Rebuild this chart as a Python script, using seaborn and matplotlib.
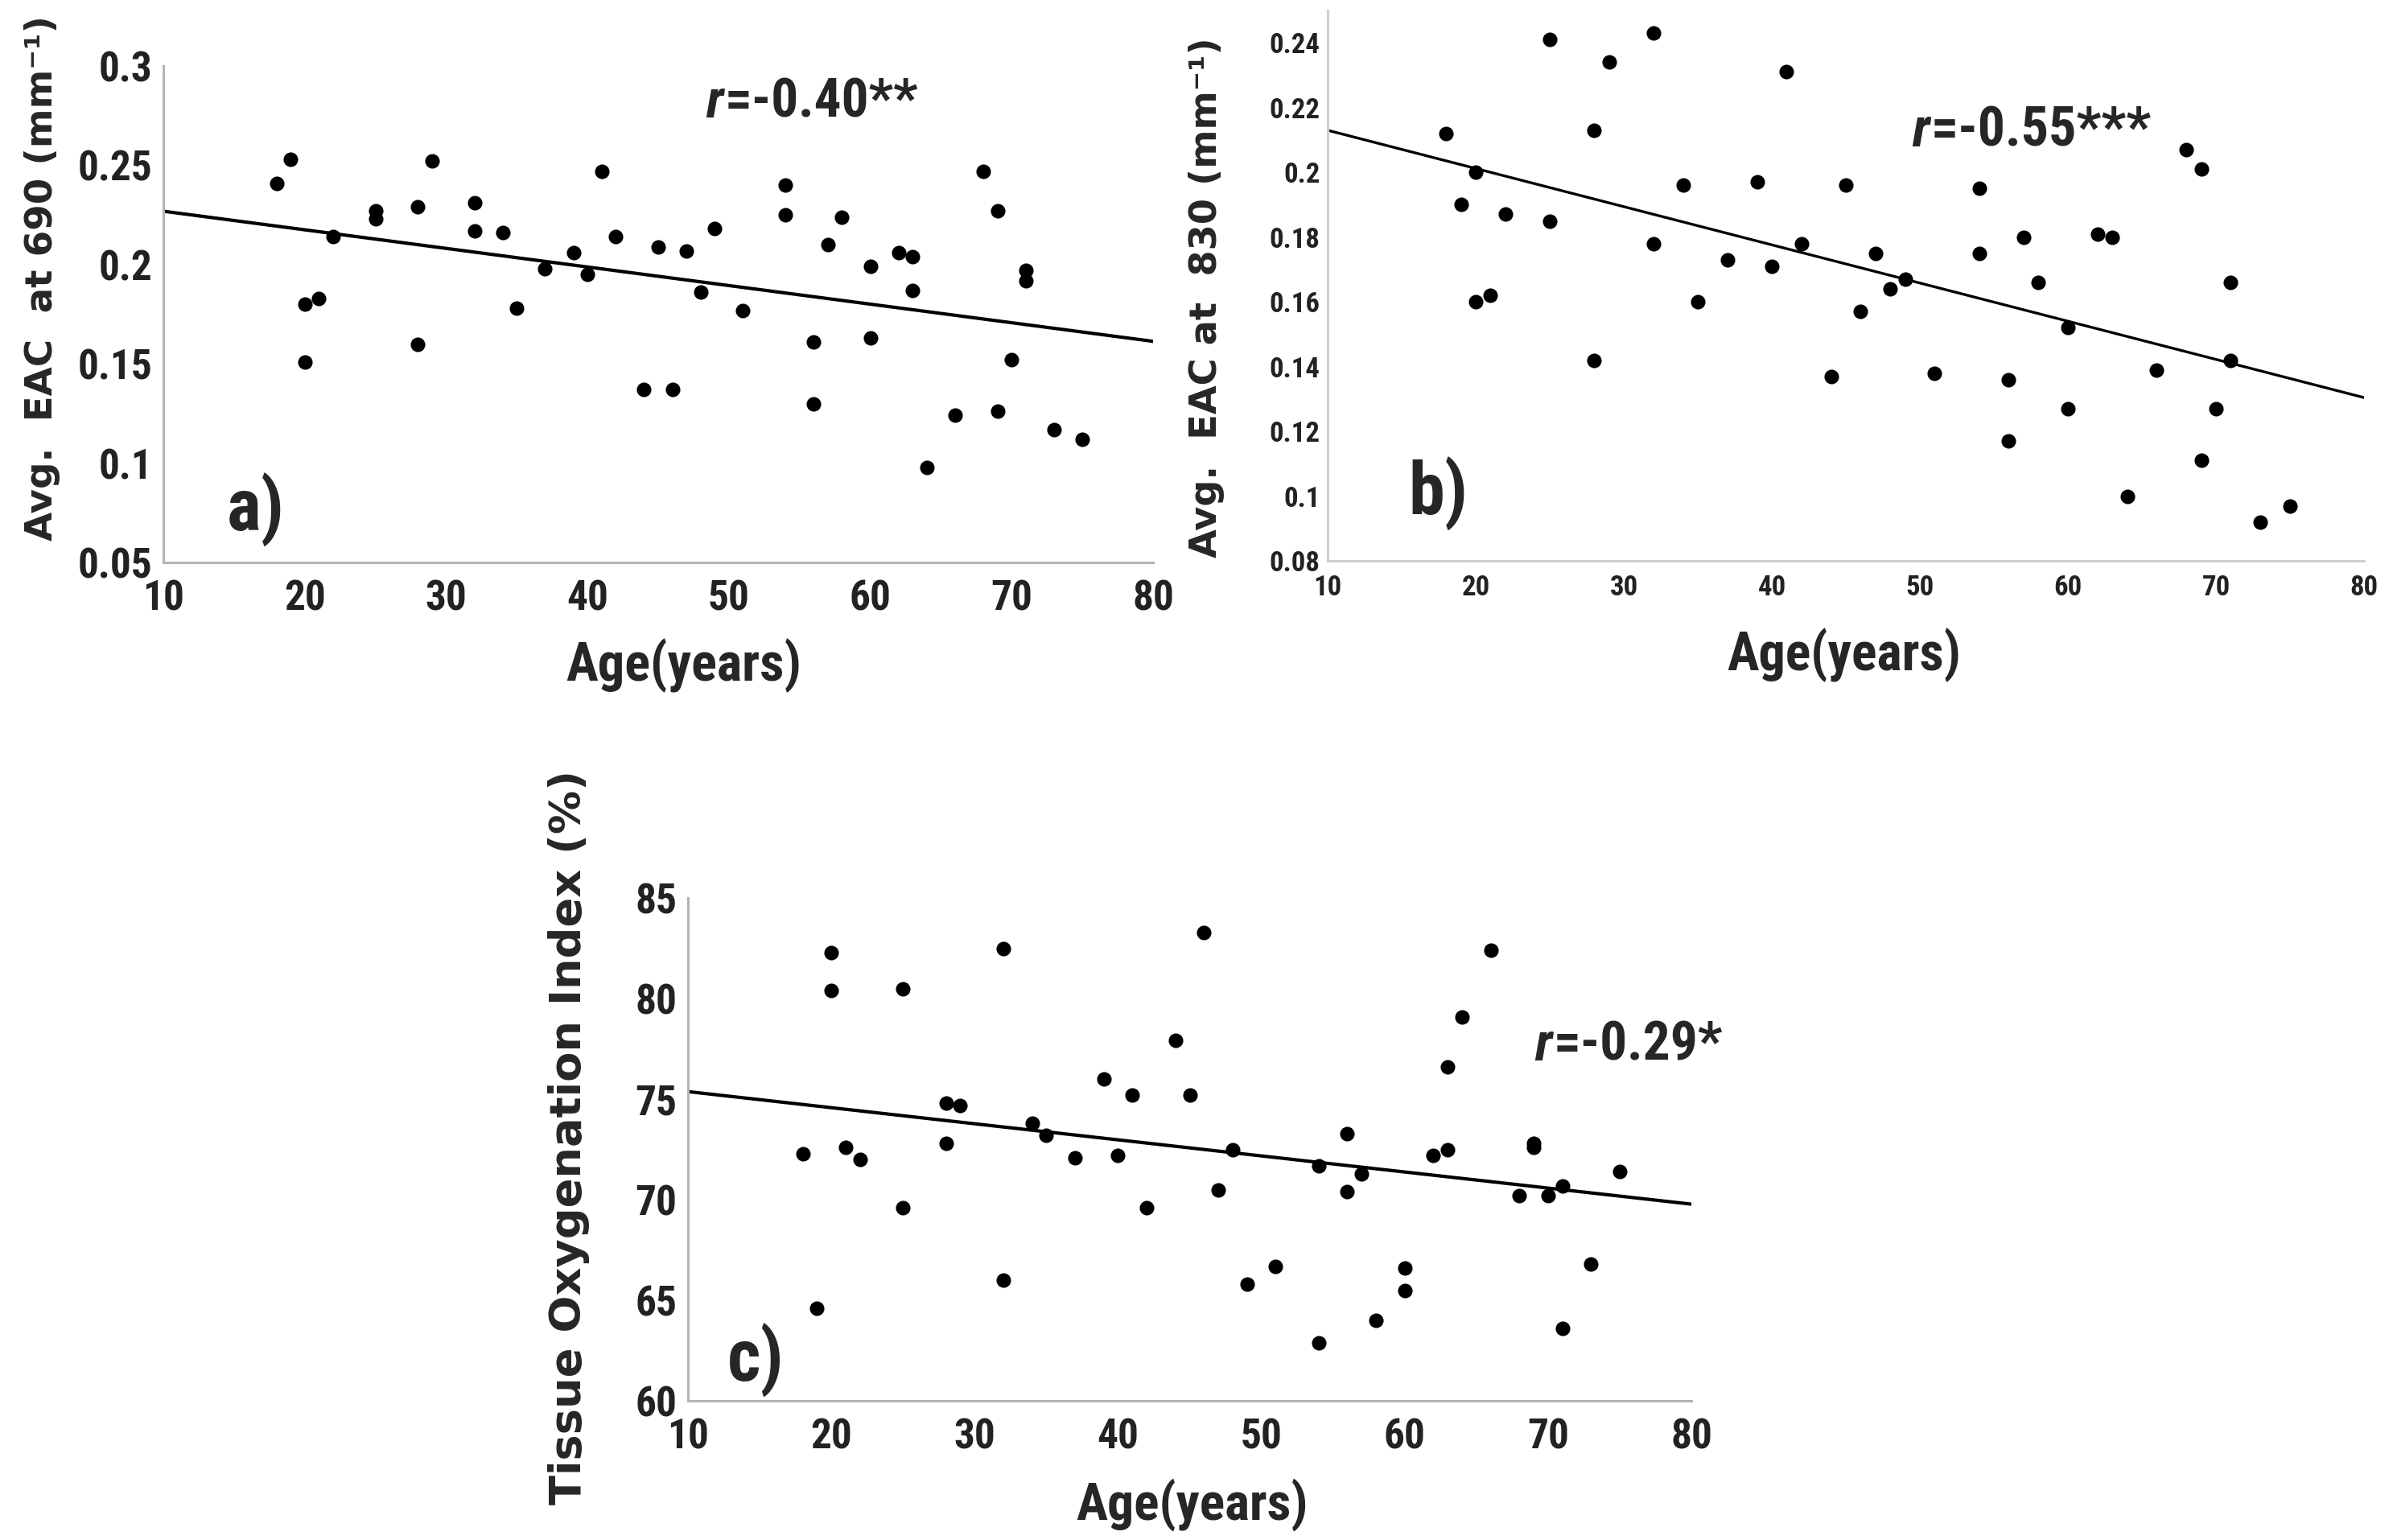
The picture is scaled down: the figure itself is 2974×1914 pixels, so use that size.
import numpy as np
import pandas as pd
import matplotlib
matplotlib.use("Agg")
import matplotlib.pyplot as plt
from matplotlib import font_manager as fm
import seaborn as sns

# panel a: EAC at 690 nm vs age
age_a = [18, 19, 20, 20, 21, 22, 25, 25, 28, 28, 29, 32, 32, 34, 35, 37, 39, 40,
         41, 42, 44, 45, 46, 47, 48, 49, 51, 54, 54, 56, 56, 57, 58, 60, 60, 62,
         63, 63, 64, 66, 68, 69, 69, 70, 71, 71, 73, 75]
eac690 = [0.241, 0.253, 0.180, 0.151, 0.183, 0.214, 0.227, 0.223, 0.229, 0.160,
          0.252, 0.231, 0.217, 0.216, 0.178, 0.198, 0.206, 0.195, 0.247, 0.214,
          0.137, 0.209, 0.137, 0.207, 0.186, 0.218, 0.177, 0.240, 0.225, 0.161,
          0.130, 0.210, 0.224, 0.199, 0.163, 0.206, 0.204, 0.187, 0.098, 0.124,
          0.247, 0.227, 0.126, 0.152, 0.197, 0.192, 0.117, 0.112]

# panel b: EAC at 830 nm vs age
age_b = [18, 19, 20, 20, 21, 22, 25, 25, 28, 28, 29, 32, 32, 34, 35, 37, 39, 40,
         41, 42, 44, 45, 46, 47, 48, 49, 51, 54, 54, 56, 56, 57, 58, 60, 60, 62,
         63, 64, 66, 68, 69, 69, 70, 71, 71, 73, 75]
eac830 = [0.212, 0.190, 0.200, 0.160, 0.162, 0.187, 0.241, 0.185, 0.213, 0.142,
          0.234, 0.243, 0.178, 0.196, 0.160, 0.173, 0.197, 0.171, 0.231, 0.178,
          0.137, 0.196, 0.157, 0.175, 0.164, 0.167, 0.138, 0.195, 0.175, 0.136,
          0.117, 0.180, 0.166, 0.152, 0.127, 0.181, 0.180, 0.100, 0.139, 0.207,
          0.201, 0.111, 0.127, 0.166, 0.142, 0.092, 0.097]

# panel c: tissue oxygenation index vs age
age_c = [18, 19, 20, 20, 21, 22, 25, 25, 28, 28, 29, 32, 32, 34, 35, 37, 39, 40,
         41, 42, 44, 45, 46, 47, 48, 49, 51, 54, 54, 56, 56, 57, 58, 60, 60, 62,
         63, 63, 64, 66, 68, 69, 69, 70, 71, 71, 73, 75]
toi = [72.3, 64.6, 82.3, 80.4, 72.6, 72.0, 80.5, 69.6, 74.8, 72.8, 74.7, 82.5,
       66.0, 73.8, 73.2, 72.1, 76.0, 72.2, 75.2, 69.6, 77.9, 75.2, 83.3, 70.5,
       72.5, 65.8, 66.7, 71.7, 62.9, 73.3, 70.4, 71.3, 64.0, 66.6, 65.5, 72.2,
       76.6, 72.5, 79.1, 82.4, 70.2, 72.8, 72.6, 70.2, 70.7, 63.6, 66.8, 71.4]

ylabels = ["Avg.  EAC  at 690 (mm⁻¹)", "Avg.  EAC at  830 (mm⁻¹)",
           "Tissue Oxygenation Index (%)"]
r_texts = ["=-0.40**", "=-0.55***", "=-0.29*"]
panel_tags = ["a)", "b)", "c)"]
xlabel = "Age(years)"

sns.set_style("white")
plt.rcParams["font.family"] = ["DejaVu Sans"]


def as_weight(w):
    if isinstance(w, str):
        return fm.weight_dict.get(w, 400)
    return w


def find_font(style="normal"):
    # a narrow bold face, like the one in the original figure
    cands = [("Liberation Sans Narrow", None), ("Roboto Condensed", None),
             ("Noto Sans", "condensed"), ("DejaVu Sans", "condensed"),
             ("Open Sans", "condensed"), ("Liberation Sans", None),
             ("DejaVu Sans", None)]
    styles = ("italic", "oblique") if style != "normal" else ("normal",)
    for name, stretch in cands:
        for f in fm.fontManager.ttflist:
            if f.name != name or f.style not in styles:
                continue
            if as_weight(f.weight) < 600:
                continue
            if stretch and str(f.stretch) != stretch:
                continue
            return f.fname
    return None


narrow_path = find_font()
narrow_it_path = find_font("italic") or narrow_path


def nfp(size, italic=False):
    p = narrow_it_path if italic else narrow_path
    if p:
        return fm.FontProperties(fname=p, size=size)
    return fm.FontProperties(family="DejaVu Sans", weight="bold", size=size,
                             style="italic" if italic else "normal")


W, H = 2974, 1914
fig = plt.figure(figsize=(W / 100, H / 100), dpi=100)
ax_a = fig.add_axes([203 / W, 1 - 699 / H, 1230 / W, 617 / H])
ax_b = fig.add_axes([1650 / W, 1 - 697 / H, 1288 / W, 684 / H])
ax_c = fig.add_axes([855 / W, 1 - 1741 / H, 1247 / W, 625 / H])


def draw(ax, x, y, ylim, yticks, ylab, tick_fs, axis_col, lw):
    ax.set_xlim(10, 80)
    ax.set_ylim(*ylim)
    sns.scatterplot(x=x, y=y, ax=ax, color="black", s=170, linewidth=0,
                    clip_on=False)
    sns.regplot(x=np.array(x), y=np.array(y), ax=ax, scatter=False, ci=None,
                truncate=False, color="black", line_kws={"lw": lw})
    ax.set_xlim(10, 80)
    ax.set_ylim(*ylim)
    xt = list(range(10, 81, 10))
    ax.set_xticks(xt, labels=[str(v) for v in xt], fontproperties=nfp(tick_fs),
                  color="#222222")
    ax.set_yticks(yticks, labels=ylab, fontproperties=nfp(tick_fs),
                  color="#222222")
    ax.set_xlabel("")
    ax.set_ylabel("")
    for s in ["top", "right"]:
        ax.spines[s].set_visible(False)
    for s in ["left", "bottom"]:
        ax.spines[s].set_color(axis_col)
        ax.spines[s].set_linewidth(2.2)
    ax.tick_params(direction="in", length=9, width=2, color=axis_col)
    ax.tick_params(axis="x", pad=15 if tick_fs > 30 else 12)
    ax.tick_params(axis="y", pad=10 if tick_fs > 30 else 7)


draw(ax_a, age_a, eac690, (0.05, 0.3), [0.05, 0.1, 0.15, 0.2, 0.25, 0.3],
     ["0.05", "0.1", "0.15", "0.2", "0.25", "0.3"], 37, "#b4b4b4", 3.0)
draw(ax_b, age_b, eac830, (0.08, 0.25), [0.08, 0.1, 0.12, 0.14, 0.16, 0.18,
                                         0.2, 0.22, 0.24],
     ["0.08", "0.1", "0.12", "0.14", "0.16", "0.18", "0.2", "0.22", "0.24"],
     25, "#cfcfcf", 2.4)
draw(ax_c, age_c, toi, (60, 85), [60, 65, 70, 75, 80, 85],
     ["60", "65", "70", "75", "80", "85"], 37, "#b4b4b4", 3.0)

fig.canvas.draw()
rend = fig.canvas.get_renderer()


def fit(t, target, vertical=False):
    bb = t.get_window_extent(rend)
    cur = bb.height if vertical else bb.width
    t.set_fontsize(t.get_fontsize() * target / cur)


# y labels: centre (px), length (px)
ylab_spec = [(53, 346, 655), (1500, 370, 647), (707, 1413, 915)]
for (cx, cy, ln), lab in zip(ylab_spec, ylabels):
    t = fig.text(cx / W, 1 - cy / H, lab, rotation=90, ha="center",
                 va="center", fontsize=33, fontweight="bold",
                 family="DejaVu Sans")
    fit(t, ln, vertical=True)

# x labels
xlab_spec = [(850, 827, 293), (2292, 814, 291), (1482, 1870, 288)]
for cx, cy, ln in xlab_spec:
    t = fig.text(cx / W, 1 - cy / H, xlabel, ha="center", va="center",
                 fontproperties=nfp(46))
    fit(t, ln)

# correlation texts, italic r + the rest; left edge, centre y, width
r_spec = [(877, 128, 263), (2376, 163, 295), (1907, 1300, None)]
r_size = None
for (lx, cy, ln), txt in zip(r_spec, r_texts):
    size = 43 if r_size is None else r_size
    t1 = fig.text(lx / W, 1 - cy / H, "r", ha="left", va="center",
                  fontproperties=nfp(size, italic=True))
    t2 = fig.text(lx / W, 1 - cy / H, txt, ha="left", va="center",
                  fontproperties=nfp(size))
    if ln is not None:
        w_all = (t1.get_window_extent(rend).width
                 + t2.get_window_extent(rend).width)
        k = ln / w_all
        t1.set_fontsize(size * k)
        t2.set_fontsize(size * k)
        if r_size is None:
            r_size = size * k
    w1 = t1.get_window_extent(rend).width
    t2.set_x((lx + w1 + 2) / W)

tag_spec = [(318, 634), (1787, 614), (939, 1691)]
for (cx, cy), tag in zip(tag_spec, panel_tags):
    fig.text(cx / W, 1 - cy / H, tag, ha="center", va="center",
             fontproperties=nfp(65))

fig.savefig("out.png", dpi=100, facecolor="white")
